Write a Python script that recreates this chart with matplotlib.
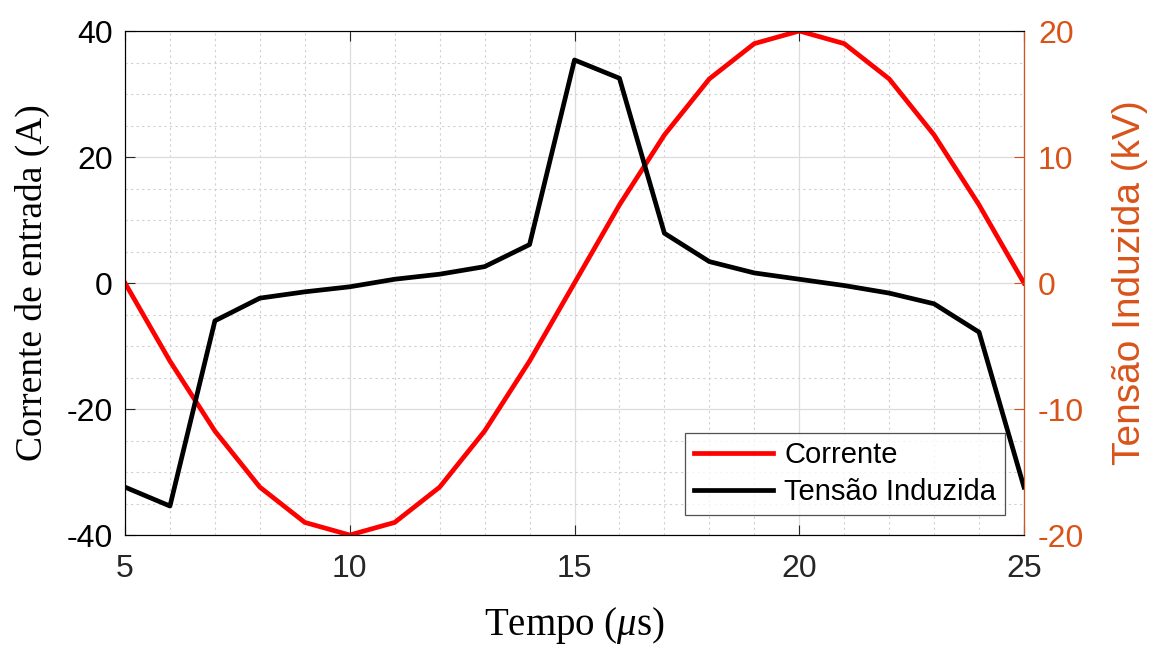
import numpy as np
import matplotlib
matplotlib.use("Agg")
import matplotlib.pyplot as plt
from matplotlib.ticker import MultipleLocator

# tempo em microssegundos
tempo = [5, 6, 7, 8, 9, 10, 11, 12, 13, 14, 15, 16, 17, 18, 19, 20, 21, 22, 23, 24, 25]
# corrente de entrada (A)
corrente = [0, -12.4, -23.5, -32.4, -38.0, -40.0, -38.0, -32.4, -23.5, -12.4, 0,
            12.4, 23.5, 32.4, 38.0, 40.0, 38.0, 32.4, 23.5, 12.4, 0]
# tensao induzida (kV)
tensao = [-16.2, -17.7, -3.0, -1.2, -0.7, -0.3, 0.3, 0.7, 1.3, 3.05, 17.7,
          16.25, 3.95, 1.7, 0.8, 0.3, -0.2, -0.8, -1.65, -3.9, -16.2]

laranja = '#D95319'
cinza = '#262626'

plt.rcParams['font.family'] = ['Liberation Sans', 'DejaVu Sans']
plt.rcParams['mathtext.fontset'] = 'custom'
plt.rcParams['mathtext.it'] = 'Liberation Serif:italic'
plt.rcParams['mathtext.rm'] = 'Liberation Serif'

fig = plt.figure(figsize=(11.49, 6.46), dpi=100)
ax1 = fig.add_axes([0.1088, 0.1718, 0.7824, 0.7802])

l1, = ax1.plot(tempo, corrente, color='red', lw=3.4, label='Corrente')
ax1.set_xlim(5, 25)
ax1.set_ylim(-40, 40)
ax1.xaxis.set_major_locator(MultipleLocator(5))
ax1.xaxis.set_minor_locator(MultipleLocator(1))
ax1.yaxis.set_major_locator(MultipleLocator(20))
ax1.yaxis.set_minor_locator(MultipleLocator(5))
ax1.grid(which='major', color='#DCDCDC', lw=0.9)
ax1.grid(which='minor', color='#D0D0D0', lw=0.8, ls=(0, (2, 3)))
ax1.set_axisbelow(True)
ax1.tick_params(which='both', direction='in', top=True, right=False, labelsize=23, length=7, color=cinza)
ax1.tick_params(which='minor', length=0)
ax1.tick_params(axis='x', labelcolor=cinza, pad=14)
ax1.tick_params(axis='y', labelcolor='black', pad=9)
ax1.set_yticks([-40, -20, 0, 20, 40])
ax1.set_yticklabels(['-40', '-20', '0', '20', '40'])
for s in ['left', 'bottom', 'top']:
    ax1.spines[s].set_color(cinza)
ax1.set_xlabel('Tempo ($\\mu$s)', fontsize=28, family='Liberation Serif', labelpad=15)
ax1.set_ylabel('Corrente de entrada (A)', fontsize=27, family='Liberation Serif', labelpad=12)

ax2 = ax1.twinx()
l2, = ax2.plot(tempo, tensao, color='black', lw=3.4, label='Tensão Induzida')
ax2.set_ylim(-20, 20)
ax2.set_yticks([-20, -10, 0, 10, 20])
ax2.set_yticklabels(['-20', '-10', '0', '10', '20'])
ax2.tick_params(axis='y', direction='in', labelsize=23, length=7, pad=10, color=laranja, labelcolor=laranja)
ax2.spines['right'].set_color(laranja)
ax2.set_ylabel('Tensão Induzida (kV)', fontsize=28, color=laranja, labelpad=20)

leg = ax2.legend(handles=[l1, l2], loc='lower right', bbox_to_anchor=(0.979, 0.04),
                 fontsize=21, frameon=True, fancybox=False, handlelength=2.7,
                 borderpad=0.3, labelspacing=0.3, handletextpad=0.4, borderaxespad=0)
leg.get_frame().set_edgecolor(cinza)
leg.get_frame().set_linewidth(0.9)

fig.savefig('out.png', dpi=100)
